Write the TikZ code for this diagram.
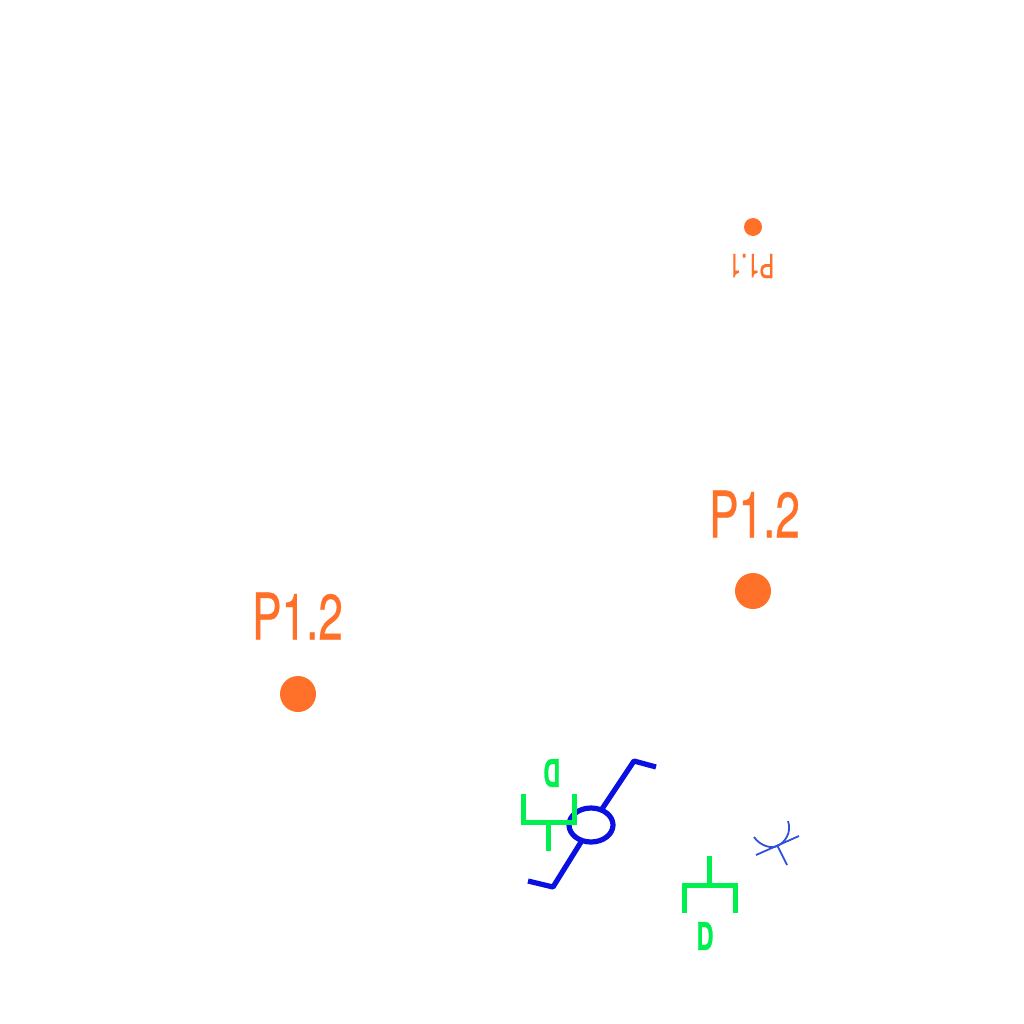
\documentclass[tikz,border=0pt]{standalone}
\usepackage{fontspec}
\setmainfont{TeX Gyre Heros}
\newfontfamily\labelfont[FakeBold=0.6]{TeX Gyre Heros}
\newfontfamily\dfont[BoldFeatures={FakeBold=1.2}]{TeX Gyre Heros}
\definecolor{dotorange}{HTML}{FF7028}
\definecolor{symgreen}{HTML}{00F050}
\definecolor{symblue}{HTML}{0A10E0}
\definecolor{thinblue}{HTML}{2F50DC}
\tikzset{
  orangedot/.style={circle,fill=dotorange,inner sep=0pt,draw=none},
  biglabel/.style={text=dotorange,inner sep=0pt,font=\labelfont\fontsize{64}{64}\selectfont,xscale=0.69},
  smalllabel/.style={text=dotorange,inner sep=0pt,font=\labelfont\fontsize{33}{33}\selectfont,xscale=0.67,rotate=180},
  greensym/.style={draw=symgreen,line width=5pt,line join=miter},
  bluesym/.style={draw=symblue,line width=5.2pt,line join=round},
  thinsym/.style={draw=thinblue,line width=1.8pt},
  dlabel/.style={text=symgreen,inner sep=0pt,font=\dfont\bfseries\fontsize{38}{38}\selectfont,xscale=0.62}
}
\begin{document}
\begin{tikzpicture}[x=1pt,y=-1pt]
\useasboundingbox (0,0) rectangle (1024,1024);
\node[orangedot,minimum size=18pt] (d1) at (753,227) {};
\node[smalllabel] (t1) at (751.5,266) {P1.1};
\node[orangedot,minimum size=36pt] (d2) at (753,591) {};
\node[biglabel] (t2) at (754.5,514) {P1.2};
\node[orangedot,minimum size=36pt] (d3) at (298,694) {};
\node[biglabel] (t3) at (297.5,616) {P1.2};
% blue symbol
\draw[bluesym] (656,767) -- (634,761) -- (602,809);
\draw[bluesym] (581,842) -- (553,887) -- (528,881);
\draw[bluesym] (591,825) ellipse [x radius=22,y radius=17];
% green symbols
\draw[greensym] (523,794) -- (523,822) -- (574,822) -- (574,794);
\draw[greensym] (548,822) -- (548,851);
\node[dlabel,rotate=180] (d4) at (552,773) {D};
\draw[greensym] (684,913) -- (684,885) -- (735,885) -- (735,913);
\draw[greensym] (709,885) -- (709,856);
\node[dlabel] (d5) at (705,936) {D};
% thin blue mark
\draw[thinsym] (756,855) -- (799,836);
\draw[thinsym] (777,845) -- (787,865);
\draw[thinsym] (754,837) .. controls (760,846) and (772,849) .. (777,846) .. controls (785,843) and (792,832) .. (788,821);
\end{tikzpicture}
\end{document}
